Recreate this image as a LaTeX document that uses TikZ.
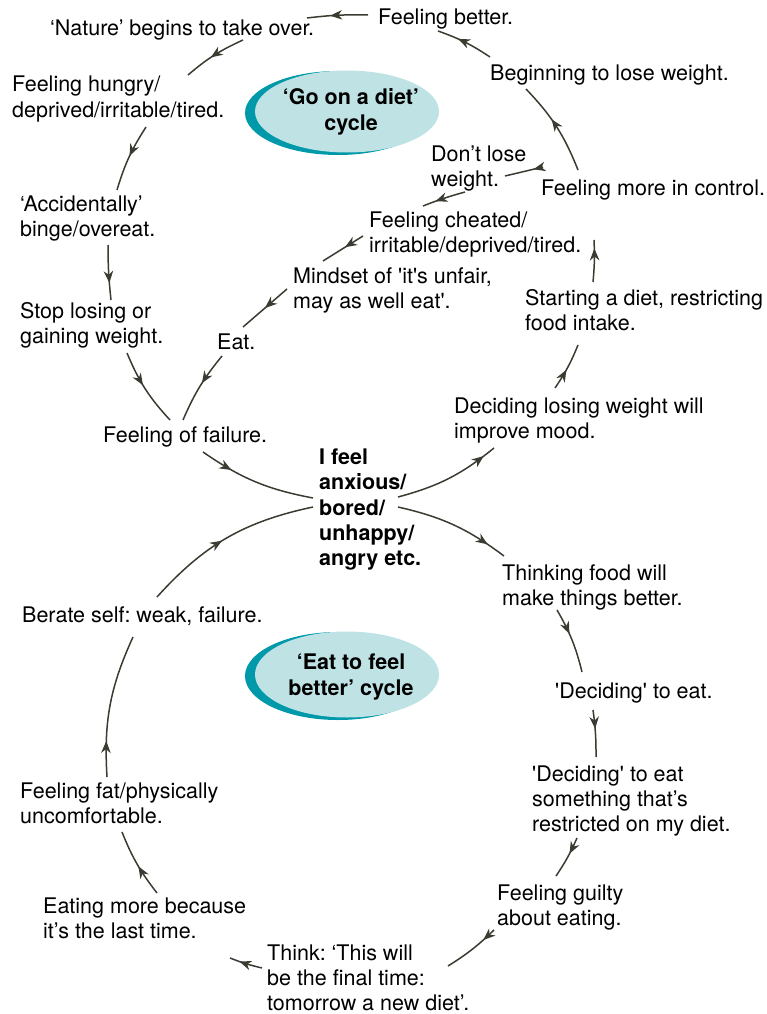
\documentclass[tikz,border=0pt]{standalone}
\usepackage{fontspec}
\setmainfont{TeX Gyre Heros}
\usetikzlibrary{arrows.meta,decorations.markings}
\definecolor{arrc}{HTML}{3B3B31}
\definecolor{teal}{HTML}{0099AA}
\definecolor{lightc}{HTML}{BFE2E5}
\newcommand\mlines[1]{\begin{tabular}[t]{@{}l@{}}#1\end{tabular}}
\newcommand\basefont{\fontsize{21.5}{25.3}\selectfont}
\frenchspacing
\tikzset{
  lbl/.style={anchor=base west, inner sep=0pt, text=black},
  arr/.style={color=arrc, line width=1.5pt, postaction={decorate},
    decoration={markings, mark=at position #1 with {\arrow{Stealth[length=12pt,width=9.5pt,inset=3.8pt]}}}},
  arr/.default=0.5,
  ctitle/.style={align=center, font=\fontsize{21.5}{26}\selectfont\bfseries, inner sep=0pt},
}
\begin{document}
\begin{tikzpicture}[x=1pt,y=1pt,font=\basefont]
\useasboundingbox (0,0) rectangle (767,-1014);
% ellipses
\fill[teal] (338,-113) ellipse [x radius=93, y radius=42];
\fill[lightc] (347,-111.5) ellipse [x radius=92, y radius=41];
\node[ctitle] (gocycle) at (351,-112) {‘Go on a diet’\\cycle};
\fill[teal] (338,-676) ellipse [x radius=93, y radius=44];
\fill[lightc] (347,-674.5) ellipse [x radius=92, y radius=43];
\node[ctitle] (eatcycle) at (351,-677) {‘Eat to feel\\better’ cycle};
% text nodes
\node[lbl] (nat) at (50,-36) {‘Nature’ begins to take over.};
\node[lbl] (better) at (378,-25) {Feeling better.};
\node[lbl] (begin) at (490,-81) {Beginning to lose weight.};
\node[lbl] (hungry) at (12,-92) {\mlines{Feeling hungry/\\deprived/irritable/tired.}};
\node[lbl] (dont) at (431,-161) {\mlines{Don’t lose\\weight.}};
\node[lbl] (control) at (541,-195) {Feeling more in control.};
\node[lbl] (acc) at (20,-211) {\mlines{‘Accidentally’\\binge/overeat.}};
\node[lbl] (cheat) at (369,-227) {\mlines{Feeling cheated/\\irritable/deprived/tired.}};
\node[lbl] (mind) at (293,-283) {\mlines{Mindset of \textquotesingle it\textquotesingle s unfair,\\may as well eat\textquotesingle.}};
\node[lbl] (start) at (525,-305) {\mlines{Starting a diet, restricting\\food intake.}};
\node[lbl] (stop) at (20,-318) {\mlines{Stop losing or\\gaining weight.}};
\node[lbl] (eat) at (217,-349) {Eat.};
\node[lbl] (decl) at (454,-413) {\mlines{Deciding losing weight will\\improve mood.}};
\node[lbl] (fail) at (103,-442) {Feeling of failure.};
\node[lbl,font=\basefont\bfseries] (feel) at (319,-464.5) {\mlines{I feel\\anxious/\\bored/\\unhappy/\\angry etc.}};
\node[lbl] (think) at (502,-580) {\mlines{Thinking food will\\make things better.}};
\node[lbl] (berate) at (22,-622) {Berate self: weak, failure.};
\node[lbl] (dec1) at (555,-698) {\textquotesingle Deciding\textquotesingle{} to eat.};
\node[lbl] (fat) at (20,-798) {\mlines{Feeling fat/physically\\uncomfortable.}};
\node[lbl] (dec2) at (532,-781) {\mlines{\textquotesingle Deciding\textquotesingle{} to eat\\something that’s\\restricted on my diet.}};
\node[lbl] (guilty) at (497,-900) {\mlines{Feeling guilty\\about eating.}};
\node[lbl] (more) at (43,-913) {\mlines{Eating more because\\it’s the last time.}};
\node[lbl] (tk) at (267,-960) {\mlines{Think: ‘This will\\be the final time:\\tomorrow a new diet’.}};
% connector end points
\coordinate (a1s) at (368,-15);   \coordinate (a1e) at (307,-18);
\coordinate (a2s) at (243,-40);   \coordinate (a2e) at (188,-75);
\coordinate (a3s) at (490,-57);   \coordinate (a3e) at (438,-31);
\coordinate (a4s) at (578,-170);  \coordinate (a4e) at (526,-89);
\coordinate (a5s) at (543,-167);  \coordinate (a5e) at (505,-176);
\coordinate (a6s) at (465,-192);  \coordinate (a6e) at (423,-206);
\coordinate (a7s) at (363,-236);  \coordinate (a7e) at (323,-261);
\coordinate (a8s) at (287,-289);  \coordinate (a8e) at (243,-327);
\coordinate (a9s) at (222,-356);  \coordinate (a9e) at (183,-420);
\coordinate (a10s) at (146,-127); \coordinate (a10e) at (117,-190);
\coordinate (a11s) at (108,-245); \coordinate (a11e) at (111,-300);
\coordinate (a12s) at (127,-353); \coordinate (a12e) at (170,-420);
\coordinate (a13s) at (203,-452); \coordinate (a13e) at (313,-498);
\coordinate (a14s) at (398,-497); \coordinate (a14e) at (494,-448);
\coordinate (a15s) at (555,-388); \coordinate (a15e) at (578,-345);
\coordinate (a16s) at (593,-282); \coordinate (a16e) at (594,-240);
\coordinate (b1s) at (398,-507);  \coordinate (b1e) at (504,-556);
\coordinate (b2s) at (557,-610);  \coordinate (b2e) at (582,-672);
\coordinate (b3s) at (593,-710);  \coordinate (b3e) at (596,-757);
\coordinate (b4s) at (577,-838);  \coordinate (b4e) at (556,-876);
\coordinate (b5s) at (494,-930);  \coordinate (b5e) at (448,-966);
\coordinate (b6s) at (262,-968);  \coordinate (b6e) at (230,-958);
\coordinate (b7s) at (157,-893);  \coordinate (b7e) at (122,-832);
\coordinate (b8s) at (107,-777);  \coordinate (b8e) at (133,-637);
\coordinate (b9s) at (157,-597);  \coordinate (b9e) at (313,-507);
% upper cycle
\draw[arr=0.62] (a1s) to[bend right=4] (a1e);
\draw[arr=0.56] (a2s) to[bend right=8] (a2e);
\draw[arr=0.63] (a3s) to[bend right=7] (a3e);
\draw[arr=0.59] (a4s) to[bend right=11] (a4e);
\draw[arr=0.25] (a5s) to (a5e);
\draw[arr=0.7] (a6s) to[bend right=3] (a6e);
\draw[arr=0.45] (a7s) to (a7e);
\draw[arr=0.5] (a8s) to (a8e);
\draw[arr=0.45] (a9s) to[bend right=8] (a9e);
\draw[arr=0.48] (a10s) to[bend right=8] (a10e);
\draw[arr=0.69] (a11s) to[bend right=3] (a11e);
\draw[arr=0.45] (a12s) to[bend right=10] (a12e);
\draw[arr=0.28] (a13s) to[bend right=12] (a13e);
\draw[arr=0.88] (a14s) to[bend right=12] (a14e);
\draw[arr=0.44] (a15s) to[bend right=6] (a15e);
\draw[arr=0.8] (a16s) to[bend right=4] (a16e);
% lower cycle
\draw[arr=0.83] (b1s) to[bend left=12] (b1e);
\draw[arr=0.4] (b2s) to[bend left=8] (b2e);
\draw[arr=0.4] (b3s) to[bend left=4] (b3e);
\draw[arr=0.4] (b4s) to[bend left=5] (b4e);
\draw[arr=0.25] (b5s) to[bend left=6] (b5e);
\draw[arr=0.7] (b6s) to[bend left=4] (b6e);
\draw[arr=0.46] (b7s) to[bend left=8] (b7e);
\draw[arr=0.25] (b8s) to[bend left=14] (b8e);
\draw[arr=0.47] (b9s) to[bend left=18] (b9e);
\end{tikzpicture}
\end{document}
